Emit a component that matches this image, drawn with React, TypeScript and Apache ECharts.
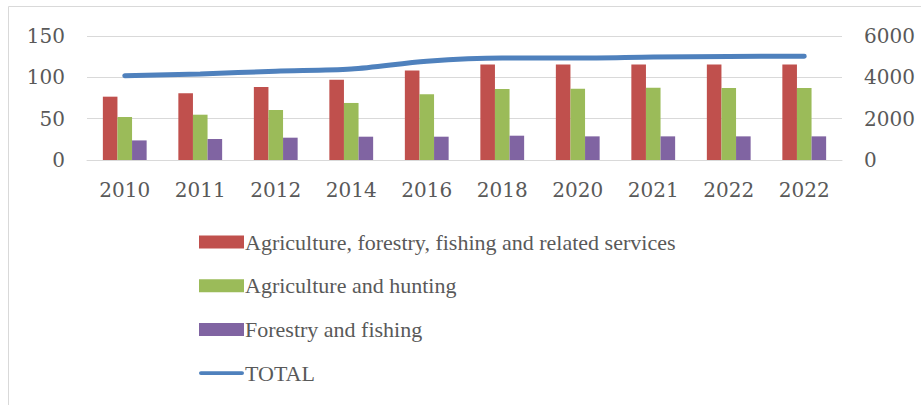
import React, { useEffect, useRef } from "react";
import * as echarts from "echarts";

const categories = ["2010", "2011", "2012", "2014", "2016", "2018", "2020", "2021", "2022", "2022"];
const agriForestryFishing = [76.6, 80.6, 88.3, 97.1, 108.4, 115.6, 115.6, 115.6, 115.6, 115.6];
const agriHunting = [52, 54.8, 60.5, 69, 79.4, 85.9, 86.1, 87.5, 87, 87];
const forestryFishing = [23.7, 25.4, 27, 28.2, 28.2, 29.4, 28.6, 28.6, 28.6, 28.6];
const total = [4080, 4160, 4300, 4400, 4780, 4940, 4930, 4980, 5010, 5020];
const leftTicks = [0, 150, 50];
const rightTicks = [0, 6000, 2000];

const names = [
  "Agriculture, forestry, fishing and related services",
  "Agriculture and hunting",
  "Forestry and fishing",
  "TOTAL",
];

export default function App() {
  const ref = useRef<HTMLDivElement>(null);
  useEffect(() => {
    if (!ref.current) return;
    const chart = echarts.init(ref.current, undefined, { renderer: "svg" });
    const axisFont = { fontFamily: "DejaVu Serif", fontSize: 20, color: "#595959" };
    chart.setOption({
      animation: false,
      backgroundColor: "#ffffff",
      graphic: [
        {
          type: "rect",
          shape: { x: 8.5, y: 6.5, width: 940, height: 440 },
          style: { fill: "none", stroke: "#d9d9d9", lineWidth: 1 },
          silent: true,
        },
      ],
      grid: { left: 87, right: 79, top: 36, bottom: 245, containLabel: false },
      legend: {
        orient: "vertical",
        left: 194,
        top: 226,
        itemWidth: 45,
        itemHeight: 13,
        itemGap: 21.7,
        symbolKeepAspect: true,
        textStyle: {
          fontFamily: "Liberation Serif",
          fontSize: 22,
          color: "#595959",
          padding: [0, 0, 0, -4],
        },
        data: [
          { name: names[0], icon: "rect" },
          { name: names[1], icon: "rect" },
          { name: names[2], icon: "rect" },
          {
            name: names[3],
            icon: "path://M2,0 H45 A2,2 0 0 1 45,4 H2 A2,2 0 0 1 2,0 Z",
            itemStyle: { color: "#4f81bd" },
          },
        ],
      },
      xAxis: {
        type: "category",
        data: categories,
        axisLine: { lineStyle: { color: "#d9d9d9", width: 1 } },
        axisTick: { show: false },
        axisLabel: { ...axisFont, margin: 20, interval: 0 },
      },
      yAxis: [
        {
          type: "value",
          min: leftTicks[0],
          max: leftTicks[1],
          interval: leftTicks[2],
          axisLine: { show: false },
          axisTick: { show: false },
          splitLine: { lineStyle: { color: "#d9d9d9", width: 1 } },
          axisLabel: { ...axisFont, margin: 22 },
        },
        {
          type: "value",
          min: rightTicks[0],
          max: rightTicks[1],
          interval: rightTicks[2],
          axisLine: { show: false },
          axisTick: { show: false },
          splitLine: { show: false },
          axisLabel: { ...axisFont, margin: 22, formatter: (v: number) => String(v) },
        },
      ],
      series: [
        {
          name: names[0],
          type: "bar",
          data: agriForestryFishing,
          itemStyle: { color: "#c0504d" },
          barGap: "0%",
          barCategoryGap: "42%",
        },
        {
          name: names[1],
          type: "bar",
          data: agriHunting,
          itemStyle: { color: "#9bbb59" },
          barGap: "0%",
          barCategoryGap: "42%",
        },
        {
          name: names[2],
          type: "bar",
          data: forestryFishing,
          itemStyle: { color: "#8064a2" },
          barGap: "0%",
          barCategoryGap: "42%",
        },
        {
          name: names[3],
          type: "line",
          yAxisIndex: 1,
          data: total,
          smooth: 0.3,
          symbol: "none",
          lineStyle: { color: "#4f81bd", width: 5, cap: "round" },
          itemStyle: { color: "#4f81bd" },
          z: 5,
        },
      ],
    });
    return () => chart.dispose();
  }, []);
  return (
    <div
      ref={ref}
      style={{ position: "fixed", left: 0, top: 0, width: 921, height: 405 }}
    />
  );
}
